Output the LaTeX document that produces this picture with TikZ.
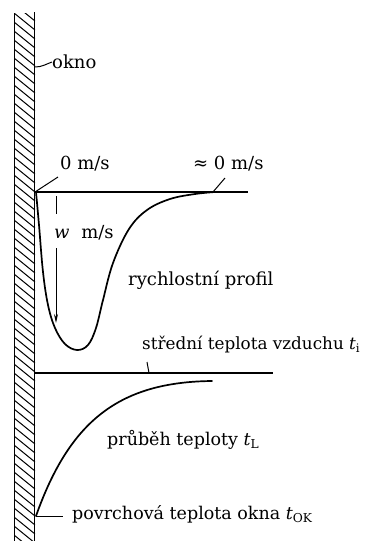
\documentclass[tikz,border=0pt]{standalone}
\usepackage{fontspec}
\setmainfont{DejaVu Serif}
\usetikzlibrary{arrows.meta}
\tikzset{
  lbl/.style={anchor=west, inner sep=0pt, font=\fontsize{18}{20}\selectfont},
  smalllbl/.style={lbl, font=\fontsize{16.8}{19}\selectfont},
  midlbl/.style={lbl, font=\fontsize{17.5}{19}\selectfont},
  curve/.style={line width=1.7pt, line cap=round},
  hline/.style={line width=1.2pt},
  leader/.style={line width=1pt},
  walledge/.style={line width=1.8pt},
  hatch/.style={line width=1pt}
}
\begin{document}
\begin{tikzpicture}[x=1pt,y=-1pt]
\useasboundingbox (0,0) rectangle (371,541);
% wall
\begin{scope}
  \clip (14,13) rectangle (35,541);
  \foreach \k in {-3,...,62} \draw[hatch] (14,{13+\k*9}) -- (35,{13+\k*9+17});
\end{scope}
\draw[walledge] (14.5,13) -- (14.5,541);
\draw[walledge] (34.5,12) -- (34.5,541);
% coordinates on the wall
\coordinate (wokno) at (35,67);
\coordinate (w0) at (35,192);
\coordinate (wT) at (35,373);
\coordinate (wS) at (36,516);
\coordinate (vEnd) at (248,192);
\coordinate (tEnd) at (273,373);
% labels
\node[lbl] (okno) at (52,62) {okno};
\node[lbl] (zero) at (60,164) {0 m/s};
\node[lbl] (azero) at (193,164) {≈ 0 m/s};
\node[lbl] (w) at (54,233) {\textit{w}\,\, m/s};
\node[lbl] (prof) at (128,280) {rychlostní profil};
\node[smalllbl] (stred) at (142,345) {střední teplota vzduchu \textit{t}\textsubscript{i}};
\node[midlbl] (prub) at (107,440) {průběh teploty \textit{t}\textsubscript{L}};
\node[midlbl] (povr) at (72,514) {povrchová teplota okna \textit{t}\textsubscript{OK}};
% leaders
\draw[leader] (wokno) to[out=0,in=-160] (okno.west);
\draw[hline] (w0) -- (vEnd);
\coordinate (z1) at (58,177);
\draw[leader] (w0) -- (z1);
\coordinate (a0) at (213,192);
\coordinate (a1) at (225,178);
\draw[leader] (a0) -- (a1);
\draw[hline] (wT) -- (tEnd);
\coordinate (s0) at (149,373);
\coordinate (s1) at (147,362);
\draw[leader] (s0) -- (s1);
\coordinate (p1) at (63,516);
\draw[leader] (wS) -- (p1);
% w arrow
\coordinate (wa0) at (56,196);
\coordinate (wa1) at (56,214);
\coordinate (wa2) at (56,248);
\coordinate (wa3) at (56,323);
\draw[leader] (wa0) -- (wa1);
\draw[leader, -{Stealth[length=9pt,width=4pt]}] (wa2) -- (wa3);
% velocity profile
\draw[curve] plot[smooth, tension=0.6] coordinates {(36,192) (39,225) (43,272) (48,305) (55,328) (65,344) (77,350) (88,345) (96,328) (103,300) (113,263) (129,229) (147,210) (170,199) (195,194) (215,192)};
% temperature curve
\draw[curve] (wS) .. controls (70,420) and (120,382) .. (212,381);
\end{tikzpicture}
\end{document}
